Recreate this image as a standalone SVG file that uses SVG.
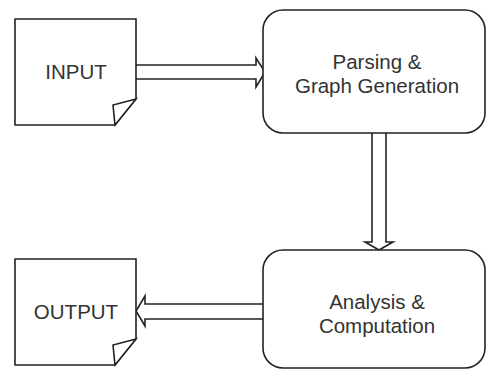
<svg xmlns="http://www.w3.org/2000/svg" width="486" height="369" viewBox="0 0 486 369">
<style>
.shape{fill:#fff;stroke:#222;stroke-width:1.6;stroke-linejoin:miter}
.conn{fill:#fff;stroke:#222;stroke-width:1.6;stroke-linejoin:miter}
.lbl{font-family:"Liberation Sans",Arial,sans-serif;font-size:20.5px;fill:#333;text-anchor:middle}
</style>
<rect width="486" height="369" fill="#fff"/>
<g id="connectors">
<path class="conn" d="M136,65 H256 V58 L265,72 L256,87 V79 H136"/>
<path class="conn" d="M372,133 V242 H365 L379,250 L393,242 H386 V133"/>
<path class="conn" d="M263,304 H145 V296 L136,311 L145,326 V319 H263"/>
</g>
<g id="input">
<path class="shape" d="M15,19 H136 V99 L115,125 H15 Z"/>
<path class="shape" d="M136,99 L113,105 L115,125 Z"/>
<text class="lbl" x="76" y="79">INPUT</text>
</g>
<g id="parsing">
<rect class="shape" x="263" y="10" width="222" height="123" rx="20"/>
<text class="lbl" x="377" y="69">Parsing &amp;</text>
<text class="lbl" x="377" y="93">Graph Generation</text>
</g>
<g id="analysis">
<rect class="shape" x="263" y="250" width="222" height="118" rx="20"/>
<text class="lbl" x="377" y="309">Analysis &amp;</text>
<text class="lbl" x="377" y="333">Computation</text>
</g>
<g id="output">
<path class="shape" d="M15,259 H136 V339 L115,365 H15 Z"/>
<path class="shape" d="M136,339 L113,345 L115,365 Z"/>
<text class="lbl" x="76" y="319">OUTPUT</text>
</g>
</svg>
